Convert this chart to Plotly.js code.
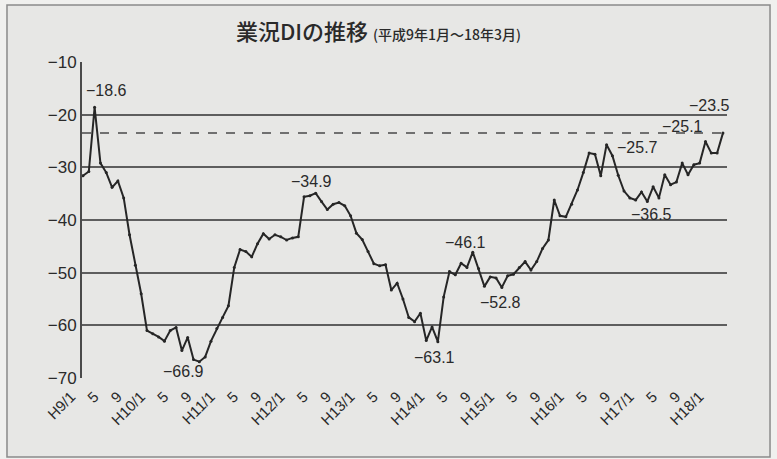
<!DOCTYPE html>
<html>
<head>
<meta charset="utf-8">
<script src="https://cdn.plot.ly/plotly-3.0.1.min.js"></script>
<style>html,body{margin:0;padding:0;background:#f0f0ee;}</style>
</head>
<body>
<div id="chart" style="width:777px;height:459px;"></div>
<script>
// Monthly business condition DI, H9/1 .. H18/3
const values = [
  -31.6, -30.8, -18.6, -29.2, -31.0, -33.8, -32.6, -35.8, -42.8, -48.6, -54.0, -61.0,
  -61.6, -62.2, -63.0, -61.0, -60.4, -64.8, -62.3, -66.5, -66.9, -66.0, -63.0, -60.6,
  -58.5, -56.3, -49.0, -45.6, -46.0, -47.0, -44.5, -42.6, -43.6, -42.8, -43.2, -43.8,
  -43.4, -43.2, -35.6, -35.4, -34.9, -36.5, -38.0, -37.0, -36.7, -37.3, -39.2, -42.5,
  -43.7, -46.0, -48.3, -48.7, -48.5, -53.3, -52.0, -55.0, -58.5, -59.3, -57.7, -62.9,
  -60.3, -63.1, -54.6, -49.8, -50.4, -48.2, -49.0, -46.1, -49.2, -52.6, -50.8, -51.0,
  -52.8, -50.6, -50.3, -49.0, -47.9, -49.5, -47.9, -45.4, -43.8, -36.2, -39.2, -39.4,
  -37.0, -34.3, -31.0, -27.3, -27.5, -31.6, -25.7, -27.8, -31.5, -34.5, -35.8, -36.2,
  -34.7, -36.5, -33.7, -35.8, -31.4, -33.3, -32.8, -29.2, -31.4, -29.5, -29.2, -25.1,
  -27.3, -27.3, -23.5
];
const monthIndex = values.map((v, i) => i);

const tickPositions = [0,4,8,12,16,20,24,28,32,36,40,44,48,52,56,60,64,68,72,76,80,84,88,92,96,100,104,108];
const tickLabels = ['H9/1','5','9','H10/1','5','9','H11/1','5','9','H12/1','5','9','H13/1','5','9',
  'H14/1','5','9','H15/1','5','9','H16/1','5','9','H17/1','5','9','H18/1'];

const yTicks = [-70,-60,-50,-40,-30,-20,-10];

// labelled points (month index)
const labelIdx = [2, 20, 40, 61, 67, 72, 90, 97, 107, 110];
const referenceLevel = values[values.length - 1];

const labelStyle = {
  2:   {xshift: -11, yshift: 6,   xanchor: 'left',   yanchor: 'bottom'},
  20:  {xshift: -16, yshift: -10, xanchor: 'center', yanchor: 'middle'},
  40:  {xshift: -4,  yshift: 12,  xanchor: 'center', yanchor: 'middle'},
  61:  {xshift: -3,  yshift: -16, xanchor: 'center', yanchor: 'middle'},
  67:  {xshift: -7,  yshift: 10,  xanchor: 'center', yanchor: 'middle'},
  72:  {xshift: -1,  yshift: -15, xanchor: 'center', yanchor: 'middle'},
  90:  {xshift: 8,   yshift: -3,  xanchor: 'left',   yanchor: 'middle'},
  97:  {xshift: 4,   yshift: -13, xanchor: 'center', yanchor: 'middle'},
  107: {xshift: 0,   yshift: 15,  xanchor: 'right',  yanchor: 'middle'},
  110: {xshift: -13, yshift: 28,  xanchor: 'center', yanchor: 'middle'}
};

const fmt = v => '\u2212' + Math.abs(v).toFixed(1);

const annotations = labelIdx.map(i => Object.assign({
  x: i, y: values[i], xref: 'x', yref: 'y',
  text: fmt(values[i]), showarrow: false,
  font: {family: 'Liberation Sans, Arial, sans-serif', size: 16, color: '#2a2a2a'}
}, labelStyle[i]));

const trace = {
  x: monthIndex, y: values, type: 'scatter', mode: 'lines+markers',
  line: {color: '#262626', width: 2},
  marker: {color: '#262626', size: 3},
  hoverinfo: 'skip'
};

const layout = {
  width: 777, height: 459,
  margin: {l: 82, r: 50, t: 62, b: 81},
  paper_bgcolor: '#f0f0ee',
  plot_bgcolor: '#e7e7e5',
  showlegend: false,
  title: {
    text: '業況DIの推移 <span style="font-size:14px">(平成9年1月～18年3月)</span>',
    font: {family: 'Noto Sans CJK JP, sans-serif', size: 22, color: '#2a2a2a', weight: 500},
    x: 0.487, xanchor: 'center', y: 0.93, yanchor: 'middle'
  },
  xaxis: {
    range: [-0.17, 110.7],
    tickvals: tickPositions, ticktext: tickLabels,
    tickangle: -45,
    showgrid: false, zeroline: false,
    showline: false, ticks: '',
    ticklabelshift: -12,
    ticklabelstandoff: 6,
    tickfont: {family: 'Liberation Sans, Arial, sans-serif', size: 15, color: '#2a2a2a'}
  },
  yaxis: {
    range: [-70, -10],
    tickvals: yTicks,
    showgrid: true, gridcolor: '#5e5e5e', gridwidth: 2,
    zeroline: false,
    showline: true, linecolor: '#4a4a4a', linewidth: 2,
    ticks: '',
    tickfont: {family: 'Liberation Sans, Arial, sans-serif', size: 17, color: '#2a2a2a'}
  },
  shapes: [
    {type: 'rect', xref: 'paper', yref: 'paper', x0: -0.1163, x1: 1.0667, y0: -0.25, y1: 1.1804,
     line: {color: '#8a8a8a', width: 1.5}, fillcolor: '#e7e7e5', layer: 'below'},
    {type: 'line', xref: 'paper', yref: 'y', x0: 0, x1: 1, y0: referenceLevel, y1: referenceLevel,
     line: {color: '#4a4a4a', width: 1.5, dash: 'dash'}, layer: 'below'}
  ],
  annotations: annotations
};

Plotly.newPlot('chart', [trace], layout, {displayModeBar: false, staticPlot: true});
</script>
</body>
</html>
